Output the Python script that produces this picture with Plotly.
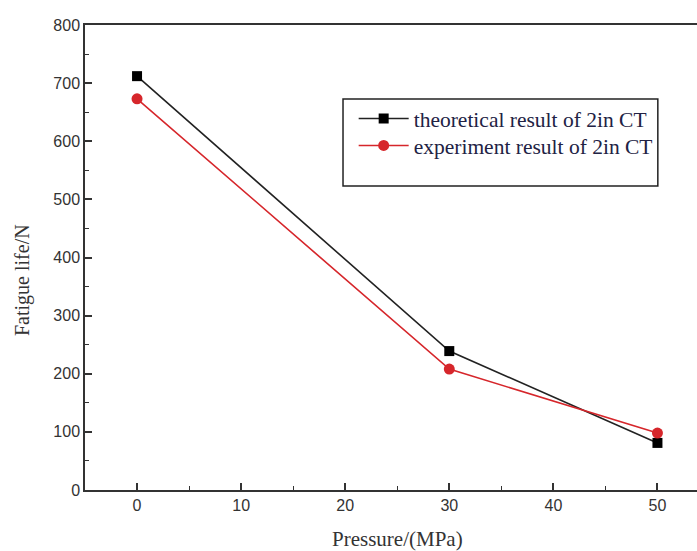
import plotly.graph_objects as go

pressure = [0, 30, 50]
theoretical = [712, 239, 81]
experiment = [673, 208, 98]
series_names = ["theoretical result of 2in CT", "experiment result of 2in CT"]
x_ticks = [0, 10, 20, 30, 40, 50]
y_ticks = [0, 100, 200, 300, 400, 500, 600, 700, 800]
x_title = "Pressure/(MPa)"
y_title = "Fatigue life/N"

fig = go.Figure()
fig.add_trace(go.Scatter(x=pressure, y=theoretical, mode="lines+markers", name=series_names[0],
                         line=dict(color="#222222", width=1.6), legend="legend",
                         marker=dict(symbol="square", size=10, color="black")))
fig.add_trace(go.Scatter(x=pressure, y=experiment, mode="lines+markers", name=series_names[1],
                         line=dict(color="#d6262b", width=1.6), legend="legend2",
                         marker=dict(symbol="circle", size=11, color="#d6262b")))

tickfont = dict(family="Liberation Sans, Arial", size=16, color="#333333")
serif = "Liberation Serif, Times New Roman"
legend_font = dict(family=serif, size=21.5, color="#222244")

fig.update_layout(
    width=697, height=551,
    margin=dict(l=85, r=0, t=25, b=61, autoexpand=False),
    plot_bgcolor="white", paper_bgcolor="white",
    showlegend=True,
    legend=dict(x=0.439, y=0.843, xanchor="left", yanchor="top",
                bgcolor="rgba(0,0,0,0)", borderwidth=0, font=legend_font, itemwidth=50),
    legend2=dict(x=0.439, y=0.785, xanchor="left", yanchor="top",
                 bgcolor="rgba(0,0,0,0)", borderwidth=0, font=legend_font, itemwidth=50),
    shapes=[dict(type="rect", xref="paper", yref="paper", x0=0.4216, x1=0.936, y0=0.654, y1=0.841,
                 line=dict(color="#222222", width=1.5), fillcolor="rgba(0,0,0,0)")],
    annotations=[
        dict(text=x_title, xref="paper", yref="paper", x=0.51, y=-0.106, xanchor="center",
             yanchor="middle", showarrow=False, font=dict(family=serif, size=21, color="#333333")),
        dict(text=y_title, xref="paper", yref="paper", x=-0.101, y=0.452, xanchor="center",
             yanchor="middle", textangle=-90, showarrow=False,
             font=dict(family=serif, size=20, color="#333333")),
    ],
)
fig.update_xaxes(range=[-5, 53.8], tickvals=x_ticks, showgrid=False, zeroline=False,
                 showline=True, linecolor="#333333", linewidth=1.5, mirror=True,
                 ticks="inside", ticklen=7, tickwidth=1.5, tickcolor="#333333",
                 minor=dict(dtick=5, ticks="inside", ticklen=4, tickwidth=1.2, tickcolor="#333333"),
                 tickfont=tickfont, automargin=False)
fig.update_yaxes(range=[0, 800], tickvals=y_ticks, showgrid=False, zeroline=False,
                 showline=True, linecolor="#333333", linewidth=1.5, mirror=False,
                 ticks="inside", ticklen=7, tickwidth=1.5, tickcolor="#333333",
                 minor=dict(dtick=50, ticks="inside", ticklen=4, tickwidth=1.2, tickcolor="#333333"),
                 tickfont=tickfont, automargin=False)

fig.write_html("out.html", config={"displayModeBar": False})

# remove default page margin so the figure fills the window exactly
with open("out.html", "r", encoding="utf-8") as f:
    html = f.read()
html = html.replace("<body>", '<body style="margin:0;overflow:hidden">', 1)
with open("out.html", "w", encoding="utf-8") as f:
    f.write(html)
